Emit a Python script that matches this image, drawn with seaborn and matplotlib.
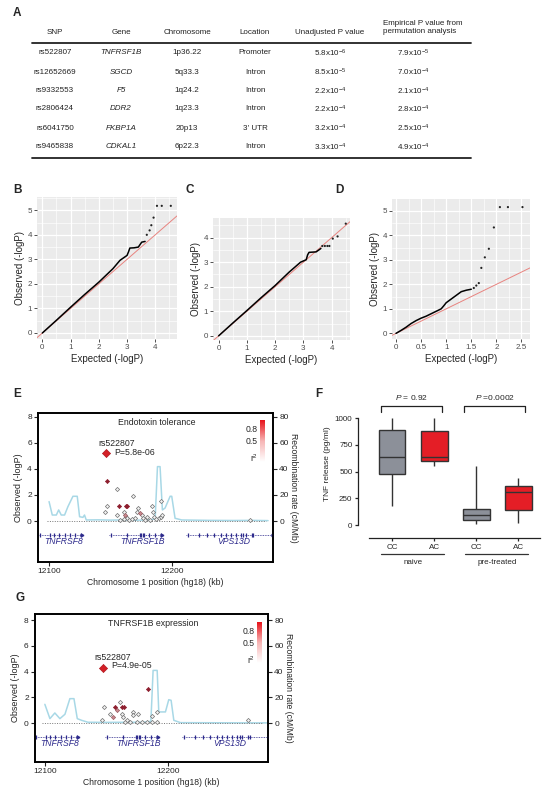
import numpy as np
import pandas as pd
import matplotlib
matplotlib.use("Agg")
import matplotlib.pyplot as plt
import seaborn as sns
from matplotlib.colors import LinearSegmentedColormap

sns.set_style("ticks")
plt.rcParams['font.family'] = ['Liberation Sans', 'DejaVu Sans']
plt.rcParams['mathtext.fontset'] = 'custom'
plt.rcParams['mathtext.rm'] = 'Liberation Sans'
plt.rcParams['mathtext.it'] = 'Liberation Sans:italic'

# ---------------- data ----------------
# A: table
table_headers = ['SNP', 'Gene', 'Chromosome', 'Location', 'Unadjusted P value']
emp_header = 'Empirical P value from\npermutation analysis'
snps = ['rs522807', 'rs12652669', 'rs9332553', 'rs2806424', 'rs6041750', 'rs9465838']
genes = ['TNFRSF1B', 'SGCD', 'F5', 'DDR2', 'FKBP1A', 'CDKAL1']
chroms = ['1p36.22', '5q33.3', '1q24.2', '1q23.3', '20p13', '6p22.3']
locations = ['Promoter', 'Intron', 'Intron', 'Intron', "3' UTR", 'Intron']
p_unadj_mant = ['5.8', '8.5', '2.2', '2.2', '3.2', '3.3']
p_unadj_exp = [-6, -5, -4, -4, -4, -4]
p_emp_mant = ['7.9', '7.0', '2.1', '2.8', '2.5', '4.9']
p_emp_exp = [-5, -4, -4, -4, -4, -4]

# B-D: QQ plots (expected vs observed -logP)
b_line_x = [0, 0.5, 1.0, 1.5, 2.0, 2.5, 2.75, 3.0, 3.05, 3.1, 3.25, 3.4, 3.52, 3.64]
b_line_y = [0, 0.52, 1.05, 1.57, 2.07, 2.62, 2.96, 3.16, 3.3, 3.46, 3.47, 3.5, 3.7, 3.73]
b_pts_x = [3.7, 3.8, 3.86, 3.94, 4.06, 4.23, 4.55]
b_pts_y = [4.0, 4.18, 4.39, 4.7, 5.18, 5.18, 5.18]

c_line_x = [0, 0.5, 1.0, 1.5, 2.0, 2.5, 2.9, 3.1, 3.15, 3.2, 3.45, 3.55, 3.62]
c_line_y = [0, 0.52, 1.03, 1.55, 2.05, 2.6, 3.0, 3.1, 3.3, 3.4, 3.42, 3.5, 3.56]
c_pts_x = [3.67, 3.76, 3.85, 3.92, 4.04, 4.21, 4.5]
c_pts_y = [3.66, 3.66, 3.66, 3.66, 3.96, 4.05, 4.57]

d_line_x = [0, 0.1, 0.2, 0.3, 0.4, 0.5, 0.6, 0.7, 0.8, 0.9, 0.95, 1.0, 1.1, 1.2, 1.3, 1.4, 1.5]
d_line_y = [0, 0.12, 0.25, 0.4, 0.52, 0.62, 0.7, 0.8, 0.9, 1.0, 1.12, 1.25, 1.4, 1.55, 1.7, 1.76, 1.8]
d_pts_x = [1.55, 1.6, 1.65, 1.70, 1.77, 1.85, 1.95, 2.07, 2.23, 2.52]
d_pts_y = [1.85, 1.95, 2.05, 2.67, 3.1, 3.45, 4.32, 5.15, 5.15, 5.15]

# E / G: regional association plots
region_kb = [12098, 12276]
gene_names = ['TNFRSF8', 'TNFRSF1B', 'VPS13D']
gene_start = [12091, 12149, 12211]
gene_end = [12127, 12192, 12282]
gene_label_kb = [12112, 12176, 12250]
gene_exons = [[12093, 12101, 12104, 12108, 12113, 12117, 12121, 12126],
              [12150, 12163, 12174, 12175, 12176, 12177, 12181, 12186, 12191],
              [12213, 12222, 12228, 12234, 12240, 12244, 12248, 12252, 12256, 12258, 12260, 12265, 12266]]

e_snp_kb = [12146.9, 12155.6, 12168, 12147.4, 12157, 12162.6, 12163.7, 12145.5, 12155, 12161,
            12161.8, 12162.6, 12163.7, 12161, 12165, 12167.2, 12169.9, 12171.3, 12172.6, 12174,
            12175.3, 12176.7, 12179.4, 12183.5, 12184.8, 12185.4, 12189.7, 12191, 12191.6, 12191,
            12158, 12178, 12182, 12187, 12263]
e_snp_logp = [3.07, 2.44, 1.95, 1.15, 1.15, 1.15, 1.15, 0.72, 0.46, 0.72,
              0.46, 0.33, 0.21, 0.13, 0.08, 0.13, 0.21, 0.72, 0.97, 0.59,
              0.46, 0.21, 0.33, 1.15, 0.72, 0.33, 0.21, 0.33, 0.46, 1.5,
              0.08, 0.08, 0.08, 0.13, 0.08]
e_snp_r2 = ['high', 'low', 'low', 'low', 'high', 'high', 'high', 'low', 'low', 'low',
            'mid', 'low', 'low', 'low', 'low', 'low', 'low', 'low', 'low', 'mid',
            'low', 'low', 'low', 'low', 'low', 'low', 'low', 'low', 'low', 'low',
            'low', 'low', 'low', 'low', 'low']
e_lead_kb = 12146.3
e_lead_p = 5.8e-06
e_rec_kb = [12100, 12102.6, 12105.9, 12107.8, 12109.9, 12112.6, 12115.3, 12119.4, 12122.9, 12124.8,
            12127.5, 12128.8, 12130.2, 12140, 12150, 12160, 12170, 12180, 12186.2, 12188.1,
            12190.2, 12192.1, 12194.3, 12198.4, 12199.7, 12202.4, 12207.8, 12230, 12250, 12265, 12278]
e_rec_rate = [14.9, 4.6, 4.6, 8.5, 4.6, 4.6, 11, 19, 19, 3.3,
              2.8, 4.6, 0.8, 0.9, 0.7, 0.8, 0.6, 0.8, 1.5, 41.8,
              41.8, 8.5, 10, 19, 19, 2.1, 0.8, 0.5, 0.4, 0.5, 0.3]

g_snp_kb = [12184, 12161, 12148, 12157, 12162.3, 12164.2, 12158.3, 12152.8, 12155.5, 12162.3,
            12163.7, 12171.8, 12175.9, 12171.8, 12186.7, 12190.8, 12146, 12165, 12169, 12174.6,
            12178.5, 12182.6, 12186.6, 12190.6, 12166.4, 12265]
g_snp_logp = [2.63, 1.65, 1.27, 1.27, 1.27, 1.27, 1.0, 0.7, 0.5, 0.7,
              0.5, 0.88, 0.75, 0.62, 0.57, 0.88, 0.23, 0.1, 0.1, 0.1,
              0.1, 0.1, 0.1, 0.1, 0.28, 0.23]
g_snp_r2 = ['high', 'low', 'low', 'high', 'high', 'high', 'mid', 'low', 'mid', 'low',
            'low', 'low', 'low', 'low', 'low', 'low', 'low', 'low', 'low', 'low',
            'low', 'low', 'low', 'low', 'low', 'low']
g_lead_kb = 12146.9
g_lead_p = 4.9e-05
g_rec_kb = [12100, 12104.1, 12108.1, 12112.2, 12116.3, 12120.3, 12123.6, 12126.3, 12129.8, 12135,
            12150, 12165, 12180, 12186, 12187.8, 12191.1, 12192.4, 12197.8, 12200.5, 12202.4,
            12204.6, 12210, 12240, 12280]
g_rec_rate = [14.7, 3.6, 8.0, 3.6, 7.0, 19.1, 19.1, 3.6, 2.3, 0.8,
              0.7, 0.8, 0.8, 1.5, 41, 41, 8.8, 8.8, 18.3, 17.8,
              2.3, 0.5, 0.4, 0.3]

# F: TNF release boxes (min, Q1, median, Q3, max)
tnf_groups = ['CC naive', 'AC naive', 'CC pre-treated', 'AC pre-treated']
tnf_ticklabels = ['CC', 'AC', 'CC', 'AC']
tnf_cc_naive = [177, 475, 637, 891, 1000]
tnf_ac_naive = [553, 596, 637, 876, 1000]
tnf_cc_pre = [9, 47, 93, 146, 553]
tnf_ac_pre = [16, 140, 304, 366, 441]
tnf_pvals = [r'$P$ = 0.92', r'$P$ =0.0002']

# ---------------- figure ----------------
W, H = 543, 795
fig = plt.figure(figsize=(W / 100, H / 100), dpi=100)


def px_axes(l, t, r, b):
    return fig.add_axes([l / W, 1 - b / H, (r - l) / W, (b - t) / H])


def ftext(x, y, s, **kw):
    fig.text(x / W, 1 - y / H, s, **kw)


# panel letters
for x, y, s in [(13, 7, 'A'), (13, 184, 'B'), (185, 184, 'C'), (335, 184, 'D'),
                (13, 388, 'E'), (315, 388, 'F'), (15, 592, 'G')]:
    ftext(x, y, s, fontsize=8.5, fontweight='bold', va='top', ha='left')

# ---- A: table ----
axA = px_axes(0, 0, W, 170)
axA.set_xlim(0, W)
axA.set_ylim(170, 0)
axA.axis('off')
col_x = [55, 121, 187, 255, 330, 413]
for x, h in zip(col_x[:5], table_headers):
    axA.text(x, 32, h, ha='center', va='center', fontsize=5.8, color='#222222')
axA.text(383, 27.5, emp_header, ha='left', va='center', fontsize=5.8, linespacing=1.2, color='#222222')
axA.plot([32, 471], [43, 43], color='#222222', lw=1.3)
axA.plot([32, 471], [158, 158], color='#222222', lw=1.3)
row_y = [53, 72, 91, 109, 128, 147]
for i, y in enumerate(row_y):
    cells = [snps[i], genes[i], chroms[i], locations[i],
             f'{p_unadj_mant[i]}x10$^{{{p_unadj_exp[i]}}}$',
             f'{p_emp_mant[i]}x10$^{{{p_emp_exp[i]}}}$']
    for j, (x, c) in enumerate(zip(col_x, cells)):
        axA.text(x, y, c, ha='center', va='center', fontsize=5.8, color='#222222',
                 style='italic' if j == 1 else 'normal')


# ---- B-D: QQ plots ----
def qq_panel(box, lx, ly, px_, py_, xlim, ylim, xmaj, xlabels, ymaj, xminor, yminor):
    ax = px_axes(*box)
    ax.set_facecolor('#EBEBEB')
    for s in ax.spines.values():
        s.set_visible(False)
    ax.set_xticks(xmaj)
    ax.set_xticklabels(xlabels)
    ax.set_yticks(ymaj)
    ax.set_xticks(xminor, minor=True)
    ax.set_yticks(yminor, minor=True)
    ax.grid(which='major', color='white', lw=0.9)
    ax.grid(which='minor', color='white', lw=0.45)
    ax.set_axisbelow(True)
    ax.axline((0, 0), slope=1, color='#E8837F', lw=0.7, zorder=2)
    sns.lineplot(x=lx, y=ly, ax=ax, color='black', lw=1.1, sort=False, estimator=None, zorder=3)
    sns.scatterplot(x=px_, y=py_, ax=ax, color='#222222', s=2.5, edgecolor='none', zorder=3)
    ax.set_xlim(*xlim)
    ax.set_ylim(*ylim)
    ax.tick_params(which='major', length=2, width=0.6, color='#333333', labelsize=5.8,
                   labelcolor='#4D4D4D', pad=1.5)
    ax.tick_params(which='minor', length=0)
    ax.set_xlabel('Expected (-logP)', fontsize=7, labelpad=2)
    ax.set_ylabel('Observed (-logP)', fontsize=7, labelpad=2)
    return ax


qq_panel((37, 197, 177, 339), b_line_x, b_line_y, b_pts_x, b_pts_y, (-0.19, 4.77), (-0.245, 5.54),
         [0, 1, 2, 3, 4], ['0', '1', '2', '3', '4'], [0, 1, 2, 3, 4, 5],
         [0.5, 1.5, 2.5, 3.5, 4.5], [0.5, 1.5, 2.5, 3.5, 4.5, 5.5])
qq_panel((213, 218, 350, 340), c_line_x, c_line_y, c_pts_x, c_pts_y, (-0.2, 4.65), (-0.17, 4.8),
         [0, 1, 2, 3, 4], ['0', '1', '2', '3', '4'], [0, 1, 2, 3, 4],
         [0.5, 1.5, 2.5, 3.5, 4.5], [0.5, 1.5, 2.5, 3.5, 4.5])
qq_panel((392, 199, 530, 339), d_line_x, d_line_y, d_pts_x, d_pts_y, (-0.08, 2.67), (-0.23, 5.48),
         [0, 0.5, 1, 1.5, 2, 2.5], ['0', '0.5', '1', '1.5', '2', '2.5'], [0, 1, 2, 3, 4, 5],
         [0.25, 0.75, 1.25, 1.75, 2.25], [0.5, 1.5, 2.5, 3.5, 4.5])

# ---- E / G: regional plots ----
r2_cmap = LinearSegmentedColormap.from_list('r2', ['#FFFFFF', '#F7B5B5', '#E8141C'])
navy = '#2D2A8C'
cls_style = {'low': dict(color='#F2F2F2', edgecolor='#707070'),
             'mid': dict(color='#C98A8F', edgecolor='#9A5A60'),
             'high': dict(color='#8E1F2F', edgecolor='#8E1F2F')}


def locus_panel(box, xlim, ylim, snp_kb, snp_logp, snp_r2, lead_kb, lead_p, rec_kb, rec_rate,
                title, cbar_box, cbar_lbl_x, cbar_lbl_y, rs_xy, p_xy):
    ax = px_axes(*box)
    tw = ax.twinx()
    sns.lineplot(x=rec_kb, y=rec_rate, ax=tw, color='#A8D8E6', lw=1.1, sort=False, estimator=None)
    tw.set_ylim(ylim[0] * 10, ylim[1] * 10)
    tw.set_yticks([0, 20, 40, 60, 80])
    ax.set_zorder(tw.get_zorder() + 1)
    ax.patch.set_visible(False)

    ax.plot(region_kb, [0, 0], ls=(0, (1, 1.5)), color='#777777', lw=0.7)
    df = pd.DataFrame({'kb': snp_kb, 'logp': snp_logp, 'r2': snp_r2})
    for cls in ['low', 'mid', 'high']:
        sub = df[df['r2'] == cls]
        sns.scatterplot(data=sub, x='kb', y='logp', ax=ax, marker='D', s=4.5, linewidth=0.5,
                        zorder=4, **cls_style[cls])
    lead_logp = -np.log10(lead_p)
    sns.scatterplot(x=[lead_kb], y=[lead_logp], ax=ax, marker='D', s=17, color='#D42027',
                    edgecolor='#B01820', linewidth=0.5, zorder=5)
    ax.text(rs_xy[0], rs_xy[1], snps[0], ha='left', va='center', fontsize=6.3)
    ax.text(p_xy[0], p_xy[1], f'P={lead_p:.1e}', ha='left', va='center', fontsize=6.3)

    gy = -1.05
    for name, st, en, lx, ex in zip(gene_names, gene_start, gene_end, gene_label_kb, gene_exons):
        ax.plot([st, en], [gy, gy], color=navy, lw=0.6, ls=(0, (1, 1)), clip_on=True)
        ax.plot(ex, [gy] * len(ex), ls='none', marker='|', ms=3, mew=0.9, color=navy)
        ax.plot([en], [gy], ls='none', marker='>', ms=2, color=navy)
        ax.text(lx, gy - 0.55, name, ha='center', va='center', fontsize=6.2, style='italic', color=navy)

    ax.set_xlim(*xlim)
    ax.set_ylim(*ylim)
    tw.set_xlim(*xlim)
    ax.set_xticks([12100, 12200])
    ax.set_yticks([0, 2, 4, 6, 8])
    for a in (ax, tw):
        for s in a.spines.values():
            s.set_linewidth(1.2)
            s.set_color('black')
        a.tick_params(direction='out', length=3, width=0.8, labelsize=6, pad=1.5)
    ax.set_xlabel('Chromosome 1 position (hg18) (kb)', fontsize=6.2, labelpad=2)
    ax.set_ylabel('Observed (-logP)', fontsize=6.5, labelpad=3)
    tw.set_ylabel('Recombination rate (cM/Mb)', fontsize=6.2, rotation=270, labelpad=7)
    ax.text(0.506, 0.935, title, transform=ax.transAxes, ha='center', va='center', fontsize=6.3)

    cax = px_axes(*cbar_box)
    cax.imshow(np.linspace(0, 1, 64)[:, None], aspect='auto', cmap=r2_cmap, origin='lower')
    cax.axis('off')
    for s, y in zip(['0.8', '0.5', 'r$^2$'], cbar_lbl_y):
        ftext(cbar_lbl_x, y, s, ha='right', va='center', fontsize=6.2)
    return ax


locus_panel((38, 413, 273, 562), (12091, 12282), (-3.15, 8.3), e_snp_kb, e_snp_logp, e_snp_r2,
            e_lead_kb, e_lead_p, e_rec_kb, e_rec_rate, 'Endotoxin tolerance',
            (260, 420, 265, 462), 258, [429, 441, 458], (12139.8, 5.92), (12152.8, 5.24))
locus_panel((35, 614, 268, 762), (12092, 12281), (-3.0, 8.47), g_snp_kb, g_snp_logp, g_snp_r2,
            g_lead_kb, g_lead_p, g_rec_kb, g_rec_rate, 'TNFRSF1B expression',
            (257, 622, 262, 663), 255, [631, 643, 660], (12140.1, 5.1), (12154.2, 4.5))

# ---- F: TNF release ----
axF = px_axes(358, 390, 540, 538)
df_tnf = pd.DataFrame({'group': np.repeat(tnf_groups, 5),
                       'tnf': tnf_cc_naive + tnf_ac_naive + tnf_cc_pre + tnf_ac_pre})
box_colors = ['#8C9099', '#E41E26', '#8C9099', '#E41E26']
sns.boxplot(data=df_tnf, x='group', y='tnf', hue='group', order=tnf_groups, hue_order=tnf_groups,
            palette=box_colors, width=0.64, whis=(0, 100), showcaps=False, linewidth=1.0,
            linecolor='#333333', saturation=1, legend=False, ax=axF)
axF.set_xlim(-0.81, 3.52)
axF.set_ylim(-121.5, 1262)
axF.spines['top'].set_visible(False)
axF.spines['right'].set_visible(False)
axF.spines['left'].set_bounds(0, 1000)
axF.spines['bottom'].set_bounds(-0.55, 3.52)
for s in ('left', 'bottom'):
    axF.spines[s].set_linewidth(0.9)
    axF.spines[s].set_color('#222222')
axF.set_yticks([0, 250, 500, 750, 1000])
axF.set_xticks(range(4))
axF.set_xticklabels(tnf_ticklabels)
axF.tick_params(labelsize=5.8, length=2.5, width=0.9, pad=1.5)
axF.set_xlabel('')
axF.set_ylabel('TNF release (pg/ml)', fontsize=6, labelpad=3)
for (x0, x1), lbl in zip([(-0.26, 1.19), (1.71, 3.17)], tnf_pvals):
    axF.plot([x0, x0, x1, x1], [1056, 1112, 1112, 1056], color='#222222', lw=0.9)
    axF.text((x0 + x1) / 2, 1190, lbl, ha='center', va='center', fontsize=6)
trans = axF.get_xaxis_transform()
for (x0, x1), lbl in zip([(-0.26, 1.24), (1.74, 3.24)], ['naive', 'pre-treated']):
    axF.plot([x0, x1], [-0.108, -0.108], transform=trans, clip_on=False, color='#333333', lw=0.9)
    axF.text((x0 + x1) / 2, -0.165, lbl, transform=trans, ha='center', va='center', fontsize=5.8)

fig.savefig('out.png', dpi=100)
